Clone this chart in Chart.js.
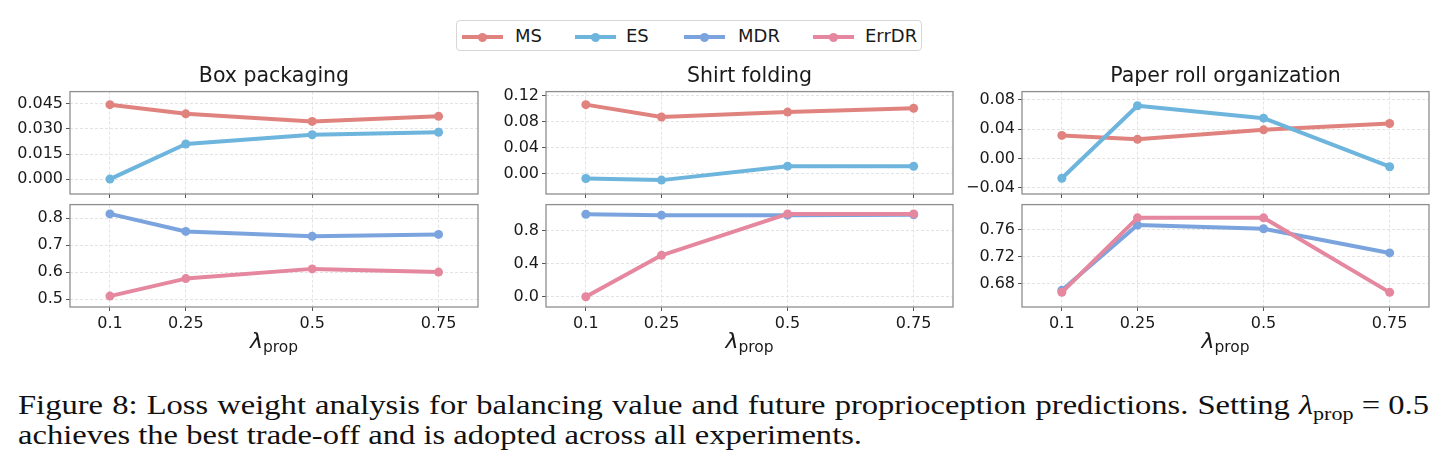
<!DOCTYPE html>
<html>
<head>
<meta charset="utf-8">
<script src="https://cdn.jsdelivr.net/npm/chart.js@4.4.0/dist/chart.umd.min.js"></script>
<style>
    body { margin: 0; background: #fff; width: 1452px; height: 467px; overflow: hidden; position: relative; font-family: 'DejaVu Sans', sans-serif; color: #1a1a1a; }
    canvas { position: absolute; }
    .title { position: absolute; font-size: 20.5px; line-height: 20.5px; white-space: nowrap; transform: translateX(-50%); }
    .xlab { position: absolute; white-space: nowrap; transform: translateX(-50%); }
    .xlab .lam { font-family: 'DejaVu Sans', sans-serif; font-style: italic; font-size: 22px; }
    .xlab .sub { font-size: 15.5px; position: relative; top: 4px; }
    #legend { position: absolute; left: 456px; top: 20px; width: 466px; height: 31px; border: 1px solid #d6d6d6; border-radius: 4px; box-sizing: border-box; }
    .lg-line { position: absolute; height: 4px; width: 41px; top: 14px; }
    .lg-dot { position: absolute; width: 9px; height: 9px; border-radius: 50%; top: -2.5px; left: 16px; }
    .lg-text { position: absolute; font-size: 18px; line-height: 18px; top: 6px; }
    .cap { position: absolute; font-family: 'Liberation Serif', serif; font-size: 28px; line-height: 30px; white-space: nowrap; color: #111; transform-origin: 0 0; }
    .cap i { font-style: italic; }
    .cap sub { font-size: 0.68em; vertical-align: -0.3em; line-height: 0; }
</style>
</head>
<body>
<div id="legend"></div>
<div id="cap1" class="cap" style="left:18px; top:390px; text-align:justify; text-align-last:justify;">Figure 8: Loss weight analysis for balancing value and future proprioception predictions. Setting <span style="white-space:nowrap"><i>λ</i><sub>prop</sub><span style="margin:0 7px">=</span>0.5</span></div>
<div id="cap2" class="cap" style="left:18px; top:420px;">achieves the best trade-off and is adopted across all experiments.</div>
<script>
    // lambda_prop values on the x axis
    var lambdas = [0.1, 0.25, 0.5, 0.75];
    var lambdaLabels = ['0.1', '0.25', '0.5', '0.75'];

    var tasks = ['Box packaging', 'Shirt folding', 'Paper roll organization'];
    var seriesNames = ['MS', 'ES', 'MDR', 'ErrDR'];
    var seriesColors = ['#e0837f', '#6db5dd', '#7ba4de', '#e5889f'];

    // Box packaging
    var boxMS = [0.0445, 0.0390, 0.0345, 0.0375];
    var boxES = [0.0000, 0.0210, 0.0265, 0.0280];
    var boxMDR = [0.816, 0.751, 0.733, 0.740];
    var boxErrDR = [0.511, 0.576, 0.612, 0.600];

    // Shirt folding
    var shirtMS = [0.1060, 0.0870, 0.0945, 0.1005];
    var shirtES = [-0.0078, -0.0103, 0.0112, 0.0111];
    var shirtMDR = [0.995, 0.985, 0.985, 0.990];
    var shirtErrDR = [0.0, 0.5, 1.0, 1.0];

    // Paper roll organization
    var paperMS = [0.0314, 0.0260, 0.0390, 0.0477];
    var paperES = [-0.0271, 0.0719, 0.0550, -0.0114];
    var paperMDR = [0.670, 0.767, 0.7615, 0.7255];
    var paperErrDR = [0.6667, 0.7778, 0.7778, 0.6667];

    // y tick values per panel
    var boxTopTicks = [0, 0.015, 0.03, 0.045];
    var boxBottomTicks = [0.5, 0.6, 0.7, 0.8];
    var shirtTopTicks = [0, 0.04, 0.08, 0.12];
    var shirtBottomTicks = [0, 0.4, 0.8];
    var paperTopTicks = [-0.04, 0, 0.04, 0.08];
    var paperBottomTicks = [0.68, 0.72, 0.76];

    // layout of the plot areas
    var cols = [{ left: 70, right: 478 }, { left: 546, right: 953 }, { left: 1022, right: 1429 }];
    var rows = [{ top: 91, bottom: 194 }, { top: 204, bottom: 307 }];
    var Y_W = 60, PAD_T = 12, PAD_R = 12;

    var framePlugin = {
        id: 'frame',
        afterDraw: function(chart) {
            var a = chart.chartArea, c = chart.ctx;
            c.save();
            c.strokeStyle = '#8e8e8e';
            c.lineWidth = 1.3;
            c.strokeRect(a.left, a.top, a.right - a.left, a.bottom - a.top);
            c.restore();
        }
    };

    function fmt(v, dec) {
        var s = Math.abs(v).toFixed(dec);
        return v < -1e-9 ? '\u2212' + s : s;
    }

    function makePanel(col, row, series, yMin, yMax, yTicks, dec) {
        var c = cols[col], r = rows[row];
        var isBottom = row === 1;
        var xh = isBottom ? 24 : 4;
        var padB = isBottom ? 4 : 12;
        var w = Y_W + (c.right - c.left) + PAD_R;
        var h = PAD_T + (r.bottom - r.top) + xh + padB;

        var canvas = document.createElement('canvas');
        canvas.width = w;
        canvas.height = h;
        canvas.style.left = (c.left - Y_W) + 'px';
        canvas.style.top = (r.top - PAD_T) + 'px';
        canvas.style.width = w + 'px';
        canvas.style.height = h + 'px';
        document.body.appendChild(canvas);

        var datasets = series.map(function(s, i) {
            return {
                label: s.name,
                data: s.values.map(function(v, k) { return { x: lambdas[k], y: v }; }),
                borderColor: s.color,
                backgroundColor: s.color,
                pointBackgroundColor: s.color,
                pointBorderWidth: 0,
                pointRadius: 4.5,
                borderWidth: 4,
                borderJoinStyle: 'round',
                tension: 0,
                order: series.length - i
            };
        });

        var tickFont = { family: 'DejaVu Sans', size: 16 };

        return new Chart(canvas.getContext('2d'), {
            type: 'line',
            data: { datasets: datasets },
            options: {
                responsive: false,
                animation: false,
                devicePixelRatio: 1,
                events: [],
                layout: { padding: { left: 0, top: PAD_T, right: PAD_R, bottom: padB } },
                plugins: { legend: { display: false }, tooltip: { enabled: false } },
                scales: {
                    x: {
                        type: 'linear',
                        min: 0.021,
                        max: 0.828,
                        afterBuildTicks: function(s) { s.ticks = lambdas.map(function(v) { return { value: v }; }); },
                        afterFit: function(s) { s.height = xh; },
                        ticks: {
                            display: isBottom,
                            color: '#1a1a1a',
                            font: tickFont,
                            padding: 3,
                            maxRotation: 0,
                            callback: function(v, i) { return lambdaLabels[i]; }
                        },
                        grid: { color: '#dcdcdc', lineWidth: 0.8, tickLength: 4, tickColor: '#555', tickWidth: 1 },
                        border: { display: false, dash: [3, 2] }
                    },
                    y: {
                        type: 'linear',
                        min: yMin,
                        max: yMax,
                        afterBuildTicks: function(s) { s.ticks = yTicks.map(function(v) { return { value: v }; }); },
                        afterFit: function(s) { s.width = Y_W; },
                        ticks: {
                            color: '#1a1a1a',
                            font: tickFont,
                            padding: 3,
                            callback: function(v) { return fmt(v, dec); }
                        },
                        grid: { color: '#dcdcdc', lineWidth: 0.8, tickLength: 4, tickColor: '#555', tickWidth: 1 },
                        border: { display: false, dash: [3, 2] }
                    }
                }
            },
            plugins: [framePlugin]
        });
    }

    function pair(a, b, ia, ib) {
        return [
            { name: seriesNames[ia], color: seriesColors[ia], values: a },
            { name: seriesNames[ib], color: seriesColors[ib], values: b }
        ];
    }

    makePanel(0, 0, pair(boxMS, boxES, 0, 1), -0.0089, 0.0523, boxTopTicks, 3);
    makePanel(0, 1, pair(boxMDR, boxErrDR, 2, 3), 0.4705, 0.8506, boxBottomTicks, 1);
    makePanel(1, 0, pair(shirtMS, shirtES, 0, 1), -0.0317, 0.1261, shirtTopTicks, 2);
    makePanel(1, 1, pair(shirtMDR, shirtErrDR, 2, 3), -0.1235, 1.112, shirtBottomTicks, 1);
    makePanel(2, 0, pair(paperMS, paperES, 0, 1), -0.0487, 0.0913, paperTopTicks, 2);
    makePanel(2, 1, pair(paperMDR, paperErrDR, 2, 3), 0.6449, 0.7975, paperBottomTicks, 2);

    // titles and x labels
    tasks.forEach(function(t, i) {
        var cx = (cols[i].left + cols[i].right) / 2;
        var d = document.createElement('div');
        d.className = 'title';
        d.style.left = cx + 'px';
        d.style.top = '65px';
        d.textContent = t;
        document.body.appendChild(d);

        var x = document.createElement('div');
        x.className = 'xlab';
        x.style.left = cx + 'px';
        x.style.top = '328px';
        x.innerHTML = '<span class="lam">\u03bb</span><span class="sub">prop</span>';
        document.body.appendChild(x);
    });

    // legend
    var legendLines = [5, 118, 227, 356];
    var legendTexts = [58, 169, 281, 408];
    var lg = document.getElementById('legend');
    seriesNames.forEach(function(n, i) {
        var line = document.createElement('div');
        line.className = 'lg-line';
        line.style.left = legendLines[i] + 'px';
        line.style.background = seriesColors[i];
        line.innerHTML = '<div class="lg-dot" style="background:' + seriesColors[i] + '"></div>';
        lg.appendChild(line);
        var txt = document.createElement('div');
        txt.className = 'lg-text';
        txt.style.left = legendTexts[i] + 'px';
        txt.textContent = n;
        lg.appendChild(txt);
    });

    // caption: widen the serif text to the measured line widths
    var cap1 = document.getElementById('cap1');
    var cap2 = document.getElementById('cap2');
    var scale = 844 / cap2.getBoundingClientRect().width;
    cap2.style.transform = 'scaleX(' + scale + ')';
    cap1.style.width = (1411 / scale) + 'px';
    cap1.style.transform = 'scaleX(' + scale + ')';
</script>
</body>
</html>
